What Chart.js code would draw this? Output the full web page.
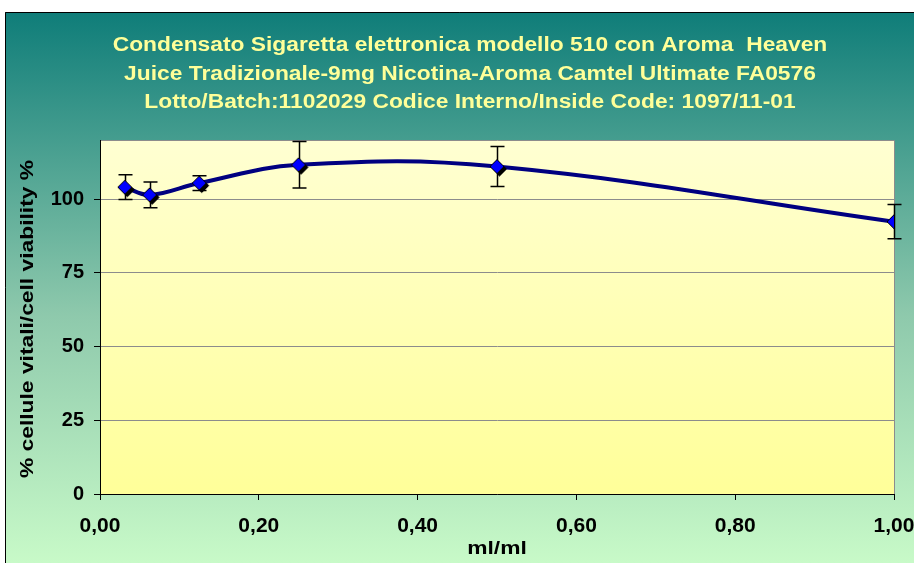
<!DOCTYPE html>
<html>
<head>
<meta charset="utf-8">
<script src="https://cdn.jsdelivr.net/npm/chart.js@4/dist/chart.umd.min.js"></script>
<style>
  html, body { margin: 0; padding: 0; background: #fff; }
  #wrap { width: 914px; height: 563px; }
</style>
</head>
<body>
<div id="wrap"><canvas id="cv" width="914" height="563"></canvas></div>
<script>
// dilutions (ml/ml) and viability %
const doses = [0.03125, 0.0625, 0.125, 0.25, 0.5, 1.0];
const viability = [104, 101.4, 105.4, 111.6, 111, 92.3];
const sd = [4.2, 4.4, 2.5, 7.9, 6.8, 5.8];
const yTicks = [0, 25, 50, 75, 100];
const titleLines = [
  "Condensato Sigaretta elettronica modello 510 con Aroma  Heaven",
  "Juice Tradizionale-9mg Nicotina-Aroma Camtel Ultimate FA0576",
  "Lotto/Batch:1102029 Codice Interno/Inside Code: 1097/11-01"
];
const yTitle = "% cellule vitali/cell viability %";
const xTitle = "ml/ml";

// diamond marker with a black drop shadow
function diamond() {
  const c = document.createElement("canvas");
  c.width = 22; c.height = 22;
  const g = c.getContext("2d");
  const d = (cx, cy, r, fill) => {
    g.beginPath();
    g.moveTo(cx, cy - r); g.lineTo(cx + r, cy); g.lineTo(cx, cy + r); g.lineTo(cx - r, cy);
    g.closePath();
    g.fillStyle = fill; g.fill();
    g.lineWidth = 1; g.strokeStyle = "#000"; g.stroke();
  };
  d(13.5, 13.5, 7, "#000");
  d(11, 11, 7, "#0000ff");
  return c;
}

// the original text is stretched sideways, so draw it with a horizontal scale
function stretchedText(ctx, text, x, y, sx, font, color) {
  ctx.save();
  ctx.translate(x, y);
  ctx.scale(sx, 1);
  ctx.font = font;
  ctx.fillStyle = color;
  ctx.textAlign = "center";
  ctx.textBaseline = "middle";
  ctx.fillText(text, 0, 0);
  ctx.restore();
}

const bgPlugin = {
  id: "bg",
  beforeDraw(chart) {
    const ctx = chart.ctx, a = chart.chartArea;
    ctx.save();
    ctx.fillStyle = "#fff";
    ctx.fillRect(0, 0, chart.width, chart.height);
    const g = ctx.createLinearGradient(0, 12, 0, chart.height);
    g.addColorStop(0, "#0f7d79");
    g.addColorStop(0.55, "#8ec9ac");
    g.addColorStop(1, "#c8fac8");
    ctx.fillStyle = g;
    ctx.fillRect(5, 12, chart.width - 5, chart.height - 12);
    ctx.strokeStyle = "#000"; ctx.lineWidth = 1;
    ctx.beginPath();
    ctx.moveTo(5.5, chart.height); ctx.lineTo(5.5, 12.5); ctx.lineTo(chart.width, 12.5);
    ctx.stroke();
    const p = ctx.createLinearGradient(0, a.top, 0, a.bottom);
    p.addColorStop(0, "#ffffd2");
    p.addColorStop(1, "#ffff99");
    ctx.fillStyle = p;
    ctx.fillRect(a.left, a.top, a.right - a.left, a.bottom - a.top);
    ctx.strokeStyle = "#8c8c8c";
    ctx.beginPath();
    ctx.moveTo(a.left, a.top + 0.5); ctx.lineTo(a.right + 0.5, a.top + 0.5); ctx.lineTo(a.right + 0.5, a.bottom);
    ctx.stroke();
    ctx.restore();

    const tf = "bold 20px 'Liberation Sans'";
    stretchedText(ctx, titleLines[0], 470, 45, 1.14, tf, "#ffff99");
    stretchedText(ctx, titleLines[1], 470, 74.5, 1.14, tf, "#ffff99");
    stretchedText(ctx, titleLines[2], 470, 102, 1.14, tf, "#ffff99");

    ctx.save();
    ctx.translate(28, (a.top + a.bottom) / 2 + 2);
    ctx.rotate(-Math.PI / 2);
    stretchedText(ctx, yTitle, 0, 0, 1.2, "bold 19px 'Liberation Sans'", "#000");
    ctx.restore();
    stretchedText(ctx, xTitle, (a.left + a.right) / 2, 549, 1.2, "bold 19px 'Liberation Sans'", "#000");
  },
  beforeDatasetsDraw(chart) {
    const ctx = chart.ctx, x = chart.scales.x, y = chart.scales.y;
    ctx.save();
    ctx.strokeStyle = "#000"; ctx.lineWidth = 1.5;
    doses.forEach((d, i) => {
      const px = Math.round(x.getPixelForValue(d)) + 0.5;
      const top = y.getPixelForValue(viability[i] + sd[i]);
      const bot = y.getPixelForValue(viability[i] - sd[i]);
      ctx.beginPath();
      ctx.moveTo(px, top); ctx.lineTo(px, bot);
      ctx.moveTo(px - 7, top); ctx.lineTo(px + 7, top);
      ctx.moveTo(px - 7, bot); ctx.lineTo(px + 7, bot);
      ctx.stroke();
    });
    ctx.restore();
  }
};

new Chart(document.getElementById("cv"), {
  type: "line",
  data: {
    datasets: [{
      data: doses.map((d, i) => ({ x: d, y: viability[i] })),
      borderColor: "#000080",
      borderWidth: 4,
      tension: 0.4,
      pointStyle: diamond(),
      pointRadius: 8
    }]
  },
  options: {
    responsive: false,
    animation: false,
    layout: { padding: { left: 0, right: 20, top: 140, bottom: 0 } },
    plugins: {
      legend: { display: false },
      tooltip: { enabled: false },
      title: { display: false }
    },
    scales: {
      x: {
        type: "linear",
        min: 0, max: 1,
        ticks: {
          stepSize: 0.2,
          color: "#000",
          padding: 14,
          font: { family: "Liberation Sans", size: 21, weight: "bold" },
          callback: v => v.toFixed(2).replace(".", ",")
        },
        grid: { drawOnChartArea: false, tickLength: 6, tickColor: "#000" },
        border: { color: "#000", width: 1 },
        afterFit: s => { s.height = 69; s.paddingLeft = 0; s.paddingRight = 0; }
      },
      y: {
        min: 0, max: 120,
        afterBuildTicks: s => { s.ticks = yTicks.map(v => ({ value: v })); },
        ticks: {
          color: "#000",
          padding: 10,
          font: { family: "Liberation Sans", size: 20, weight: "bold" }
        },
        grid: { color: "#8c8c8c", tickLength: 6, tickColor: "#000" },
        border: { color: "#000", width: 1 },
        afterFit: s => { s.width = 100; s.paddingTop = 0; s.paddingBottom = 0; }
      }
    }
  },
  plugins: [bgPlugin]
});
</script>
</body>
</html>
